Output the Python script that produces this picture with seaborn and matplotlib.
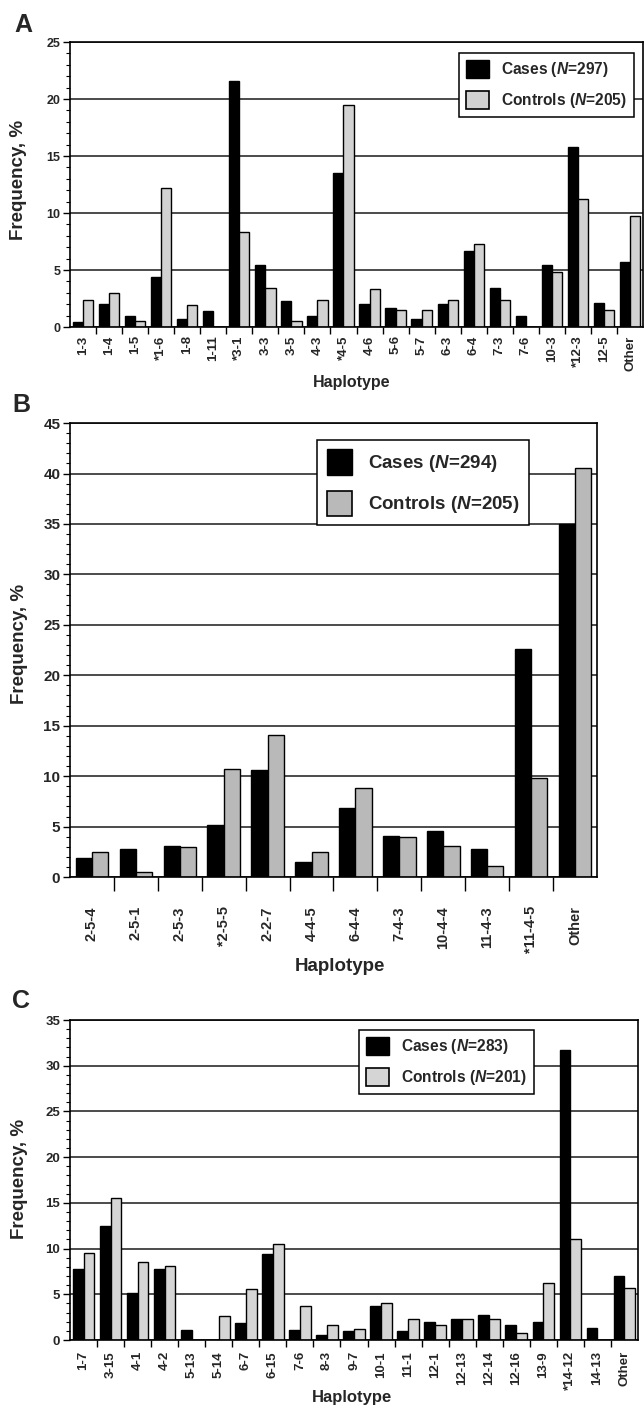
import matplotlib
matplotlib.use('Agg')
import matplotlib.pyplot as plt
import seaborn as sns
import pandas as pd
from matplotlib.patches import Patch
from matplotlib.ticker import MultipleLocator, FixedLocator

# Painel A
haplotipos_a = ['1-3', '1-4', '1-5', '*1-6', '1-8', '1-11', '*3-1', '3-3', '3-5', '4-3', '*4-5',
                '4-6', '5-6', '5-7', '6-3', '6-4', '7-3', '7-6', '10-3', '*12-3', '12-5', 'Other']
casos_a = [0.4, 2.0, 1.0, 4.4, 0.7, 1.4, 21.6, 5.4, 2.3, 1.0, 13.5,
           2.0, 1.7, 0.7, 2.0, 6.7, 3.4, 1.0, 5.4, 15.8, 2.1, 5.7]
controles_a = [2.4, 2.95, 0.5, 12.2, 1.9, 0.0, 8.3, 3.4, 0.5, 2.4, 19.5,
               3.3, 1.5, 1.5, 2.4, 7.25, 2.4, 0.0, 4.85, 11.2, 1.5, 9.7]
n_a = [297, 205]

# Painel B
haplotipos_b = ['2-5-4', '2-5-1', '2-5-3', '*2-5-5', '2-2-7', '4-4-5', '6-4-4', '7-4-3',
                '10-4-4', '11-4-3', '*11-4-5', 'Other']
casos_b = [1.85, 2.75, 3.1, 5.15, 10.6, 1.5, 6.8, 4.1, 4.6, 2.8, 22.6, 35.0]
controles_b = [2.5, 0.5, 3.0, 10.7, 14.1, 2.5, 8.8, 4.0, 3.05, 1.1, 9.85, 40.5]
n_b = [294, 205]

# Painel C
haplotipos_c = ['1-7', '3-15', '4-1', '4-2', '5-13', '5-14', '6-7', '6-15', '7-6', '8-3', '9-7',
                '10-1', '11-1', '12-1', '12-13', '12-14', '12-16', '13-9', '*14-12', '14-13', 'Other']
casos_c = [7.8, 12.5, 5.2, 7.8, 1.15, 0.0, 1.9, 9.4, 1.15, 0.5, 1.0,
           3.75, 1.0, 2.0, 2.35, 2.7, 1.65, 2.0, 31.7, 1.35, 7.0]
controles_c = [9.55, 15.55, 8.55, 8.1, 0.0, 2.65, 5.6, 10.5, 3.7, 1.7, 1.25,
               4.1, 2.25, 1.7, 2.3, 2.3, 0.75, 6.2, 11.1, 0.0, 5.7]
n_c = [283, 201]

sns.set_theme(style='white')
plt.rcParams['font.family'] = ['Liberation Sans', 'DejaVu Sans']
plt.rcParams['font.weight'] = 'bold'
plt.rcParams['axes.labelweight'] = 'bold'
plt.rcParams['mathtext.fontset'] = 'custom'
plt.rcParams['mathtext.it'] = 'Liberation Sans:italic:bold'
plt.rcParams['mathtext.rm'] = 'Liberation Sans:bold'


def painel(ax, haplotipos, casos, controles, n, cinza, ymax, largura, est):
    df = pd.DataFrame({
        'Haplotype': haplotipos + haplotipos,
        'freq': casos + controles,
        'grupo': ['Cases'] * len(casos) + ['Controls'] * len(controles),
    })
    sns.barplot(data=df, x='Haplotype', y='freq', hue='grupo', hue_order=['Cases', 'Controls'],
                palette=['black', cinza], edgecolor='black', linewidth=1.0, width=largura,
                errorbar=None, legend=False, ax=ax)
    k = len(haplotipos)
    ax.set_xlim(-0.5, k - 0.5)
    ax.set_ylim(0, ymax)

    # eixo y
    ax.yaxis.set_major_locator(MultipleLocator(5))
    ax.yaxis.set_minor_locator(MultipleLocator(1))
    ax.tick_params(axis='y', which='major', left=True, length=5, width=1, pad=2,
                   labelsize=est['fs_y'], color='black')
    ax.tick_params(axis='y', which='minor', left=True, length=3, width=0.8, color='black')
    ax.grid(axis='y', which='major', color='#1a1a1a', linewidth=1.1)
    ax.grid(axis='x', visible=False)
    ax.set_axisbelow(True)

    # eixo x
    ax.set_xticks(range(k))
    ax.set_xticklabels(haplotipos, rotation=90)
    ax.tick_params(axis='x', which='major', bottom=True, length=0, pad=est['pad_x'],
                   labelsize=est['fs_x'])
    ax.xaxis.set_minor_locator(FixedLocator([i + 0.5 for i in range(k - 1)]))
    ax.tick_params(axis='x', which='minor', bottom=True, length=est['tick_x'], width=1,
                   color='black')

    for s in ax.spines.values():
        s.set_color('black')
        s.set_linewidth(1.2)

    ax.set_xlabel('Haplotype', fontsize=est['fs_xl'], fontweight='bold')
    ax.xaxis.set_label_coords(*est['pos_xl'])
    ax.set_ylabel('Frequency, %', fontsize=13.5, fontweight='bold')
    ax.yaxis.set_label_coords(*est['pos_yl'])

    handles = [Patch(facecolor='black', edgecolor='black', linewidth=1),
               Patch(facecolor=cinza, edgecolor='black', linewidth=1.2)]
    labels = [f'Cases ($N$={n[0]})', f'Controls ($N$={n[1]})']
    leg = ax.legend(handles, labels, loc='upper right', bbox_to_anchor=est['pos_leg'],
                    borderaxespad=0, prop={'weight': 'bold', 'size': est['fs_leg']},
                    handlelength=est['hl'], handleheight=est['hh'], labelspacing=est['ls'],
                    handletextpad=est['htp'], borderpad=est['bp'], frameon=True,
                    fancybox=False, framealpha=1, edgecolor='black')
    leg.get_frame().set_linewidth(1.1)


fig = plt.figure(figsize=(6.44, 14.06), dpi=100)

ax_a = fig.add_axes([0.1087, 0.7674, 0.8898, 0.2027])
painel(ax_a, haplotipos_a, casos_a, controles_a, n_a, '#d2d2d2', 25, 0.78,
       {'fs_y': 9, 'fs_x': 9.5, 'pad_x': 6, 'tick_x': 5, 'fs_xl': 11.5,
        'pos_xl': (0.492, -0.17), 'pos_yl': (-0.075, 0.516), 'pos_leg': (0.984, 0.961),
        'fs_leg': 11.2, 'hl': 1.45, 'hh': 1.4, 'ls': 0.75, 'htp': 0.8, 'bp': 0.45})

ax_b = fig.add_axes([0.1087, 0.3762, 0.8183, 0.3229])
painel(ax_b, haplotipos_b, casos_b, controles_b, n_b, '#b9b9b9', 45, 0.74,
       {'fs_y': 11, 'fs_x': 10.5, 'pad_x': 21, 'tick_x': 10, 'fs_xl': 13.5,
        'pos_xl': (0.512, -0.178), 'pos_yl': (-0.08, 0.513), 'pos_leg': (0.871, 0.9626),
        'fs_leg': 13.5, 'hl': 1.35, 'hh': 1.7, 'ls': 0.85, 'htp': 0.85, 'bp': 0.5})

ax_c = fig.add_axes([0.1087, 0.0469, 0.882, 0.2276])
painel(ax_c, haplotipos_c, casos_c, controles_c, n_c, '#d5d5d5', 35, 0.8,
       {'fs_y': 9.5, 'fs_x': 9.5, 'pad_x': 8, 'tick_x': 5, 'fs_xl': 12,
        'pos_xl': (0.496, -0.155), 'pos_yl': (-0.074, 0.503), 'pos_leg': (0.817, 0.969),
        'fs_leg': 11.2, 'hl': 1.45, 'hh': 1.4, 'ls': 0.75, 'htp': 0.8, 'bp': 0.45})

# Letras dos painéis
fig.text(14 / 644, 0.9772, 'A', fontsize=18, fontweight='bold', ha='left', va='baseline')
fig.text(12 / 644, 0.7070, 'B', fontsize=18, fontweight='bold', ha='left', va='baseline')
fig.text(12 / 644, 0.2831, 'C', fontsize=18, fontweight='bold', ha='left', va='baseline')

fig.savefig('out.png', dpi=100)
